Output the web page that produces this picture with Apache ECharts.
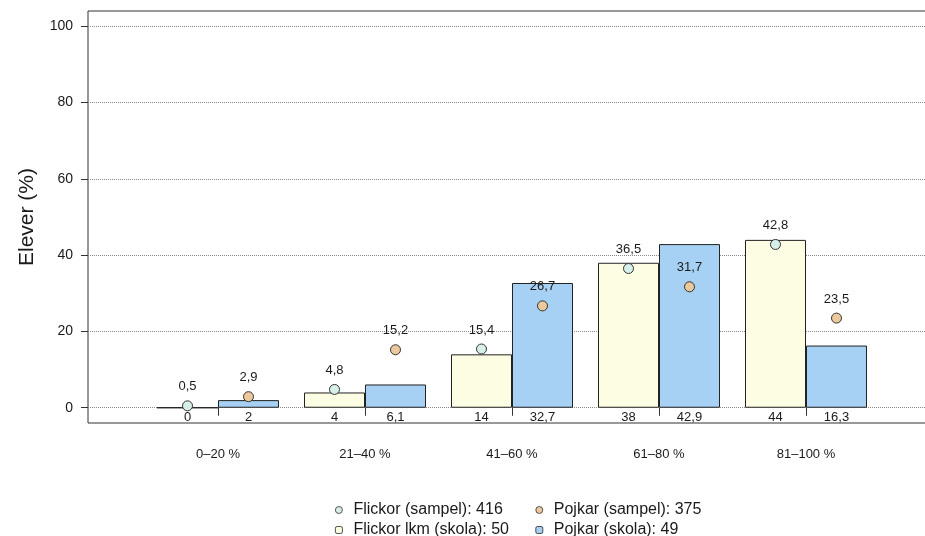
<!DOCTYPE html>
<html>
<head>
<meta charset="utf-8">
<script src="https://cdn.jsdelivr.net/npm/echarts@6/dist/echarts.min.js"></script>
<style>
  html, body { margin: 0; padding: 0; background: #fff; }
  #chart { width: 925px; height: 536px; }
</style>
</head>
<body>
<div id="chart"></div>
<script>
// data
var categories = ["0–20 %", "21–40 %", "41–60 %", "61–80 %", "81–100 %"];
var flickorSkola = [0, 4, 14, 38, 44];
var pojkarSkola = [2, 6.1, 32.7, 42.9, 16.3];
var flickorSampel = [0.5, 4.8, 15.4, 36.5, 42.8];
var pojkarSampel = [2.9, 15.2, 26.7, 31.7, 23.5];
var yTicks = [0, 20, 40, 60, 80, 100];
var seriesNames = ["Flickor (sampel)", "Pojkar (sampel)", "Flickor lkm (skola)", "Pojkar (skola)"];
var seriesCounts = [416, 375, 50, 49];

var BAR_W = 61;
var BAND_W = 147;
var dotOffset = BAR_W / 2 / BAND_W;
var FONT = "Liberation Sans";

function comma(v) {
  return String(v).replace(".", ",");
}
function dots(values, side) {
  return values.map(function (v, i) {
    return [i + side * dotOffset, v];
  });
}
function legendLabel(name) {
  return name + ": " + seriesCounts[seriesNames.indexOf(name)];
}
function makeLegend(names, top) {
  return {
    data: names,
    left: 335,
    top: top,
    padding: 0,
    itemWidth: 7,
    itemHeight: 7,
    itemGap: 5,
    formatter: legendLabel,
    itemStyle: { borderWidth: 0.8 },
    textStyle: {
      fontSize: 16,
      color: "#1a1a1a",
      width: 177,
      lineHeight: 16,
      padding: [0, 0, 0, 6],
      fontFamily: FONT,
    },
  };
}
function barLabel() {
  return {
    show: true,
    position: "bottom",
    distance: 3,
    fontSize: 13,
    color: "#1a1a1a",
    fontFamily: FONT,
    formatter: function (p) { return comma(p.value); },
  };
}
function dotLabel() {
  return {
    show: true,
    position: "top",
    distance: 7,
    fontSize: 13,
    color: "#1a1a1a",
    fontFamily: FONT,
    formatter: function (p) { return comma(p.value[1]); },
  };
}

var chart = echarts.init(document.getElementById("chart"), null, { renderer: "canvas" });

var option = {
  animation: false,
  textStyle: { fontFamily: FONT, color: "#1a1a1a" },
  grid: [
    // frame + y axis (right edge runs off the picture)
    {
      left: 88, top: 11, width: 860, height: 412,
      outerBoundsMode: "none",
      show: true, borderColor: "#333", borderWidth: 1,
    },
    // bars
    { left: 144.5, top: 11, width: 735, height: 412, outerBoundsMode: "none" },
  ],
  xAxis: [
    { type: "value", gridIndex: 0, min: 0, max: 1, show: false },
    {
      type: "category",
      gridIndex: 1,
      data: categories,
      axisLine: { show: false },
      axisTick: { show: true, alignWithLabel: true, length: 8, lineStyle: { color: "#333" } },
      axisLabel: { margin: 25, fontSize: 13, color: "#1a1a1a", fontFamily: FONT },
    },
    { type: "value", gridIndex: 1, min: -0.5, max: 4.5, show: false },
  ],
  yAxis: [
    {
      type: "value",
      gridIndex: 0,
      min: -4,
      max: 104,
      name: "Elever (%)",
      nameLocation: "middle",
      nameGap: 50,
      nameTextStyle: { fontSize: 21, color: "#1a1a1a", fontFamily: FONT },
      axisLine: { show: false },
      axisTick: { show: true, length: 7, customValues: yTicks, lineStyle: { color: "#333" } },
      axisLabel: { customValues: yTicks, margin: 15, fontSize: 14, color: "#1a1a1a", fontFamily: FONT },
      splitLine: { show: true, lineStyle: { color: "#888", type: "dotted", width: 1 } },
    },
    { type: "value", gridIndex: 1, min: -4, max: 104, show: false },
  ],
  legend: [
    makeLegend([seriesNames[0], seriesNames[1]], 502),
    makeLegend([seriesNames[2], seriesNames[3]], 522),
  ],
  series: [
    {
      name: seriesNames[2],
      type: "bar",
      xAxisIndex: 1,
      yAxisIndex: 1,
      barWidth: BAR_W,
      barGap: "0%",
      data: flickorSkola,
      itemStyle: { color: "#fdfde4", borderColor: "#222", borderWidth: 1 },
      label: barLabel(),
    },
    {
      name: seriesNames[3],
      type: "bar",
      xAxisIndex: 1,
      yAxisIndex: 1,
      barWidth: BAR_W,
      barGap: "0%",
      data: pojkarSkola,
      itemStyle: { color: "#a6d0f4", borderColor: "#222", borderWidth: 1 },
      label: barLabel(),
    },
    {
      name: seriesNames[0],
      type: "scatter",
      xAxisIndex: 2,
      yAxisIndex: 1,
      symbolSize: 10,
      data: dots(flickorSampel, -1),
      itemStyle: { color: "#d6efe9", borderColor: "#333", borderWidth: 1, opacity: 1 },
      label: dotLabel(),
      z: 5,
    },
    {
      name: seriesNames[1],
      type: "scatter",
      xAxisIndex: 2,
      yAxisIndex: 1,
      symbolSize: 10,
      data: dots(pojkarSampel, 1),
      itemStyle: { color: "#ebc99c", borderColor: "#333", borderWidth: 1, opacity: 1 },
      label: dotLabel(),
      z: 5,
    },
  ],
};

chart.setOption(option);
</script>
</body>
</html>
